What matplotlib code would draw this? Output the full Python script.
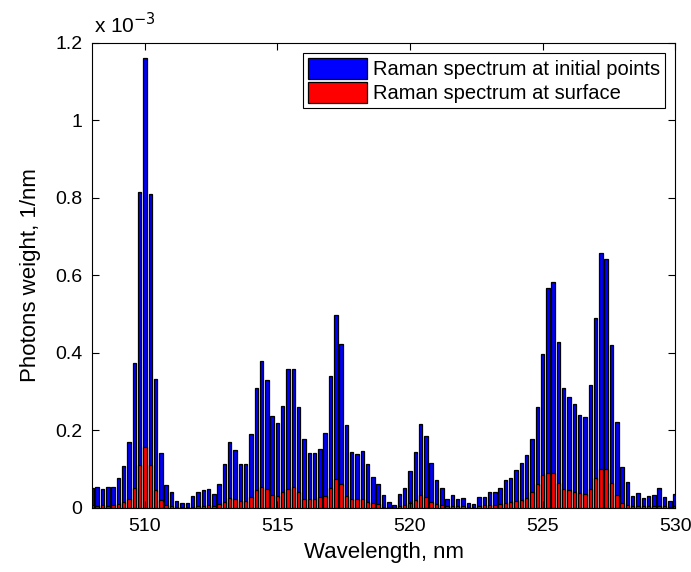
import matplotlib
matplotlib.use("Agg")
import matplotlib.pyplot as plt
import numpy as np

plt.rcParams['font.family'] = ['Liberation Sans', 'DejaVu Sans']

# wavelength grid 508.0 ... 530.0 nm, step 0.2
wavelength = np.round(np.arange(508.0, 530.01, 0.2), 1)

# Raman spectrum at initial points (x 1e-3)
initial = [
    0.051, 0.053, 0.050, 0.053, 0.053, 0.077, 0.108, 0.170, 0.374, 0.815,
    1.160, 0.810, 0.334, 0.142, 0.059, 0.040, 0.017, 0.014, 0.014, 0.031,
    0.040, 0.045, 0.048, 0.037, 0.062, 0.114, 0.171, 0.150, 0.114, 0.114,
    0.192, 0.309, 0.380, 0.329, 0.237, 0.218, 0.263, 0.358, 0.358, 0.261,
    0.177, 0.141, 0.142, 0.151, 0.194, 0.341, 0.498, 0.423, 0.214, 0.145,
    0.139, 0.148, 0.114, 0.080, 0.062, 0.034, 0.016, 0.007, 0.037, 0.051,
    0.096, 0.145, 0.217, 0.186, 0.117, 0.071, 0.051, 0.022, 0.034, 0.022,
    0.025, 0.014, 0.010, 0.028, 0.029, 0.042, 0.042, 0.051, 0.071, 0.077,
    0.098, 0.117, 0.137, 0.177, 0.260, 0.397, 0.567, 0.584, 0.429, 0.309,
    0.286, 0.268, 0.240, 0.234, 0.316, 0.489, 0.659, 0.643, 0.421, 0.222,
    0.105, 0.068, 0.031, 0.038, 0.025, 0.031, 0.034, 0.051, 0.028, 0.019,
    0.036,
]

# Raman spectrum at surface (x 1e-3)
surface = [
    0.007, 0.006, 0.007, 0.006, 0.007, 0.010, 0.016, 0.022, 0.051, 0.110,
    0.158, 0.110, 0.045, 0.021, 0.008, 0.005, 0.003, 0.003, 0.003, 0.003,
    0.004, 0.005, 0.007, 0.006, 0.010, 0.016, 0.025, 0.022, 0.017, 0.017,
    0.028, 0.045, 0.054, 0.048, 0.034, 0.031, 0.040, 0.050, 0.053, 0.040,
    0.024, 0.023, 0.023, 0.028, 0.030, 0.051, 0.074, 0.062, 0.031, 0.022,
    0.022, 0.022, 0.016, 0.014, 0.009, 0.003, 0.002, 0.001, 0.004, 0.007,
    0.014, 0.021, 0.034, 0.028, 0.016, 0.010, 0.007, 0.004, 0.005, 0.004,
    0.004, 0.003, 0.003, 0.005, 0.007, 0.008, 0.007, 0.010, 0.014, 0.016,
    0.019, 0.021, 0.025, 0.040, 0.062, 0.085, 0.089, 0.091, 0.064, 0.048,
    0.045, 0.041, 0.038, 0.036, 0.048, 0.077, 0.100, 0.100, 0.064, 0.034,
    0.014, 0.008, 0.004, 0.005, 0.004, 0.004, 0.004, 0.006, 0.004, 0.003,
    0.004,
]

xticks = [510, 515, 520, 525, 530]
yticks = [0, 0.2, 0.4, 0.6, 0.8, 1.0, 1.2]
yticklabels = ['0', '0.2', '0.4', '0.6', '0.8', '1', '1.2']

fig = plt.figure(figsize=(6.91, 5.72), dpi=100)
ax = fig.add_axes([0.133, 0.112, 0.844, 0.813])

w = 0.13
ax.bar(wavelength, initial, width=w, color='#0000ff', edgecolor='black',
       linewidth=0.9, label='Raman spectrum at initial points')
ax.bar(wavelength, surface, width=w, color='#ff0000', edgecolor='black',
       linewidth=0.9, label='Raman spectrum at surface')

ax.set_xlim(508, 530)
ax.set_ylim(0, 1.2)
ax.set_xticks(xticks)
ax.set_xticklabels([str(t) for t in xticks])
ax.set_yticks(yticks)
ax.set_yticklabels(yticklabels)
ax.tick_params(direction='in', top=True, right=True, labelsize=14, length=5,
               pad=7)
for s in ax.spines.values():
    s.set_linewidth(0.8)

ax.text(0.003, 1.012, r'x 10$^{-3}$', transform=ax.transAxes, fontsize=15,
        ha='left', va='bottom')

ax.set_xlabel('Wavelength, nm', fontsize=16, labelpad=5)
ax.set_ylabel('Photons weight, 1/nm', fontsize=16, labelpad=10)

leg = ax.legend(loc='upper right', fontsize=14.5, fancybox=False,
                framealpha=1, edgecolor='black', borderaxespad=0.5,
                handlelength=2.9, handleheight=1.2, labelspacing=0.15,
                borderpad=0.25, handletextpad=0.3)
leg.get_frame().set_linewidth(0.8)

fig.savefig('out.png', dpi=100)
